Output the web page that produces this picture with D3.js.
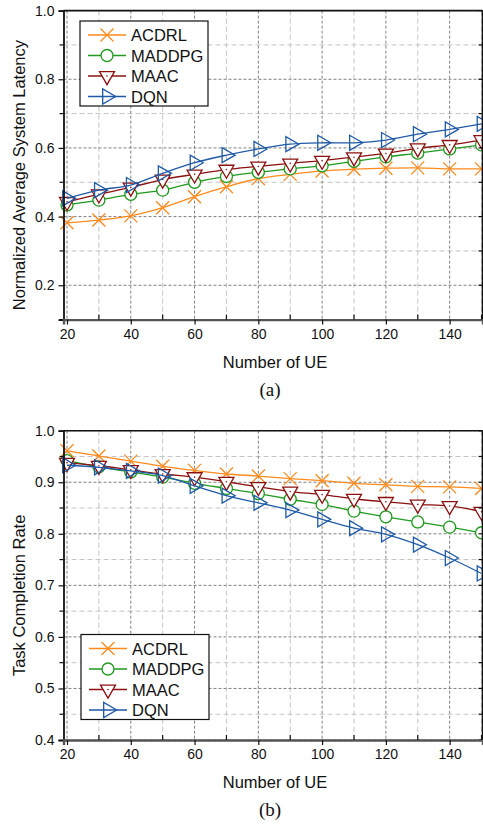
<!DOCTYPE html>
<html>
<head>
<meta charset="utf-8">
<script src="https://cdn.jsdelivr.net/npm/d3@7"></script>
<style>
  body { margin: 0; background: #fff; }
  svg { display: block; font-family: "Liberation Sans", Arial, sans-serif; }
</style>
</head>
<body>
<div class="chart"></div>
<script>
// data
const ue = [20, 30, 40, 50, 60, 70, 80, 90, 100, 110, 120, 130, 140, 150]
const methods = ["ACDRL", "MADDPG", "MAAC", "DQN"]

// (a) normalized average system latency
const latencyACDRL  = [0.382, 0.390, 0.402, 0.426, 0.458, 0.487, 0.511, 0.523, 0.533, 0.538, 0.541, 0.542, 0.539, 0.539]
const latencyMADDPG = [0.434, 0.448, 0.465, 0.477, 0.500, 0.517, 0.529, 0.539, 0.548, 0.561, 0.574, 0.585, 0.597, 0.609]
const latencyMAAC   = [0.443, 0.465, 0.485, 0.508, 0.523, 0.537, 0.546, 0.555, 0.563, 0.573, 0.584, 0.599, 0.609, 0.623]
const latencyDQN    = [0.453, 0.477, 0.492, 0.526, 0.557, 0.579, 0.597, 0.611, 0.615, 0.615, 0.623, 0.640, 0.654, 0.670]

// (b) task completion rate
const rateACDRL  = [0.961, 0.951, 0.941, 0.931, 0.923, 0.916, 0.912, 0.907, 0.903, 0.898, 0.895, 0.892, 0.891, 0.888]
const rateMADDPG = [0.942, 0.930, 0.920, 0.910, 0.898, 0.888, 0.878, 0.867, 0.857, 0.844, 0.833, 0.823, 0.813, 0.802]
const rateMAAC   = [0.938, 0.932, 0.924, 0.916, 0.910, 0.901, 0.891, 0.882, 0.876, 0.868, 0.862, 0.857, 0.854, 0.843]
const rateDQN    = [0.933, 0.929, 0.922, 0.913, 0.893, 0.874, 0.860, 0.846, 0.828, 0.811, 0.799, 0.779, 0.753, 0.723]

const xMajor = [20, 40, 60, 80, 100, 120, 140]
const xMinor = [30, 50, 70, 90, 110, 130, 150]
const yMajorA = [0.2, 0.4, 0.6, 0.8, 1.0]
const yMinorA = [0.1, 0.3, 0.5, 0.7, 0.9]
const yMajorB = [0.4, 0.5, 0.6, 0.7, 0.8, 0.9, 1.0]
const yMinorB = [0.45, 0.55, 0.65, 0.75, 0.85, 0.95]

const colors = d3.scaleOrdinal().domain(methods).range(["#ff8a1c", "#1f9a1f", "#8c1010", "#1f5aa6"])

const W = 483, H = 826
const svg = d3.select(".chart").append("svg").attr("width", W).attr("height", H)

function marker(g, name, c) {
  if (name === "ACDRL") {
    g.append("path").attr("d", "M-6.5,-6.5L6.5,6.5M-6.5,6.5L6.5,-6.5")
      .attr("stroke", c).attr("stroke-width", 1.3).attr("fill", "none")
  } else if (name === "MADDPG") {
    g.append("circle").attr("r", 6).attr("fill", "#fff").attr("stroke", c).attr("stroke-width", 1.3)
  } else if (name === "MAAC") {
    const h = 13
    g.append("path").attr("d", `M-7.5,${-h/3}L7.5,${-h/3}L0,${2*h/3}Z`)
      .attr("fill", "#fff").attr("stroke", c).attr("stroke-width", 1.3)
    g.append("circle").attr("r", 0.8).attr("fill", c)
  } else {
    const w = 13
    g.append("path").attr("d", `M${-w/3},-7.5L${-w/3},7.5L${2*w/3},0Z`)
      .attr("fill", "none").attr("stroke", c).attr("stroke-width", 1.3)
  }
}

function drawPanel(p) {
  const x = d3.scaleLinear().domain([18.9, 150.3]).range([p.left, p.right])
  const y = d3.scaleLinear().domain(p.yDomain).range([p.bottom, p.top])
  const g = svg.append("g")

  // grid: minor first, major on top
  g.selectAll(".vminor").data(xMinor).join("line")
    .attr("x1", d => x(d)).attr("x2", d => x(d)).attr("y1", p.top).attr("y2", p.bottom)
    .attr("stroke", "#c4c4c4").attr("stroke-dasharray", "5,3")
  g.selectAll(".hminor").data(p.yMinor).join("line")
    .attr("x1", p.left).attr("x2", p.right).attr("y1", d => y(d)).attr("y2", d => y(d))
    .attr("stroke", "#c4c4c4").attr("stroke-dasharray", "5,3")
  g.selectAll(".vmajor").data(xMajor).join("line")
    .attr("x1", d => x(d)).attr("x2", d => x(d)).attr("y1", p.top).attr("y2", p.bottom)
    .attr("stroke", "#808080").attr("stroke-dasharray", "3,2")
  g.selectAll(".hmajor").data(p.yMajor).join("line")
    .attr("x1", p.left).attr("x2", p.right).attr("y1", d => y(d)).attr("y2", d => y(d))
    .attr("stroke", "#808080").attr("stroke-dasharray", "3,2")

  // series
  const lineGen = d3.line().x((d, i) => x(ue[i])).y(d => y(d)).curve(d3.curveCatmullRom)
  methods.forEach((m, k) => {
    const vals = p.series[k]
    g.append("path").attr("d", lineGen(vals)).attr("fill", "none")
      .attr("stroke", colors(m)).attr("stroke-width", 1.3)
    vals.forEach((v, i) => {
      const mg = g.append("g").attr("transform", `translate(${x(ue[i])},${y(v)})`)
      marker(mg, m, colors(m))
    })
  })

  // frame
  g.append("line").attr("x1", p.left).attr("x2", p.right).attr("y1", p.top).attr("y2", p.top)
    .attr("stroke", "#111").attr("stroke-width", 1.6)
  g.append("line").attr("x1", p.right).attr("x2", p.right).attr("y1", p.top).attr("y2", p.bottom)
    .attr("stroke", "#111").attr("stroke-width", 1.6)

  // axes
  const yAxis = g.append("g").attr("transform", `translate(${p.left},0)`)
    .call(d3.axisLeft(y).tickValues(p.yMajor).tickSize(5).tickFormat(d3.format(".1f")))
  yAxis.select(".domain").attr("stroke", "#111").attr("stroke-width", 1.8)
  yAxis.selectAll(".tick line").attr("stroke", "#111").attr("stroke-width", 1.2)
  yAxis.selectAll(".tick text").attr("font-size", 14).attr("fill", "#111")
    .attr("font-family", "Liberation Sans, Arial, sans-serif").attr("x", -9)
  g.selectAll(".yminortick").data(p.yMinor).join("line")
    .attr("x1", p.left - 4).attr("x2", p.left).attr("y1", d => y(d)).attr("y2", d => y(d))
    .attr("stroke", "#111").attr("stroke-width", 1.2)
  g.selectAll(".rtick").data(p.yMajor.concat(p.yMinor)).join("line")
    .attr("x1", p.right - 4).attr("x2", p.right).attr("y1", d => y(d)).attr("y2", d => y(d))
    .attr("stroke", "#111").attr("stroke-width", 1.2)

  const xAxis = g.append("g").attr("transform", `translate(0,${p.bottom})`)
    .call(d3.axisBottom(x).tickValues(xMajor).tickSize(5).tickPadding(4))
  xAxis.select(".domain").attr("stroke", "#555").attr("stroke-width", 2.4)
  xAxis.selectAll(".tick line").attr("stroke", "#111").attr("stroke-width", 1.2)
  xAxis.selectAll(".tick text").attr("font-size", 14).attr("fill", "#111")
    .attr("font-family", "Liberation Sans, Arial, sans-serif")
  g.selectAll(".xminortick").data(xMinor).join("line")
    .attr("x1", d => x(d)).attr("x2", d => x(d)).attr("y1", p.bottom - 5).attr("y2", p.bottom)
    .attr("stroke", "#111").attr("stroke-width", 1.2)

  // labels
  g.append("text").attr("x", (p.left + p.right) / 2 + 2).attr("y", p.bottom + 48)
    .attr("text-anchor", "middle").attr("font-size", 16.5).attr("fill", "#111").text("Number of UE")
  g.append("text").attr("transform", `translate(18.5,${(p.top + p.bottom) / 2 + 10}) rotate(-90)`)
    .attr("text-anchor", "middle").attr("dominant-baseline", "central")
    .attr("font-size", 16.5).attr("fill", "#111").text(p.yLabel)
  g.append("text").attr("x", 270).attr("y", p.bottom + 76)
    .attr("text-anchor", "middle").attr("font-size", 19).attr("fill", "#111")
    .attr("font-family", "Liberation Serif, Times New Roman, serif").text(p.caption)

  // legend
  const lg = g.append("g").attr("transform", `translate(${p.legend[0]},${p.legend[1]})`)
  lg.append("rect").attr("width", 128).attr("height", 85)
    .attr("fill", "#fff").attr("stroke", "#111").attr("stroke-width", 1.2)
  methods.forEach((m, i) => {
    const ly = 14 + i * 20.5
    lg.append("line").attr("x1", 8).attr("x2", 46).attr("y1", ly).attr("y2", ly)
      .attr("stroke", colors(m)).attr("stroke-width", 1.3)
    marker(lg.append("g").attr("transform", `translate(27,${ly})`), m, colors(m))
    lg.append("text").attr("x", 51).attr("y", ly).attr("dominant-baseline", "central")
      .attr("font-size", 16.5).attr("fill", "#111").text(m)
  })
}

drawPanel({
  left: 63.5, right: 482.5, top: 10.6, bottom: 319.6,
  yDomain: [0.1, 1.0], yMajor: yMajorA, yMinor: yMinorA,
  series: [latencyACDRL, latencyMADDPG, latencyMAAC, latencyDQN],
  yLabel: "Normalized Average System Latency", caption: "(a)",
  legend: [80, 21]
})

drawPanel({
  left: 63.5, right: 482.5, top: 430.7, bottom: 740,
  yDomain: [0.4, 1.0], yMajor: yMajorB, yMinor: yMinorB,
  series: [rateACDRL, rateMADDPG, rateMAAC, rateDQN],
  yLabel: "Task Completion Rate", caption: "(b)",
  legend: [81, 634.5]
})
</script>
</body>
</html>
